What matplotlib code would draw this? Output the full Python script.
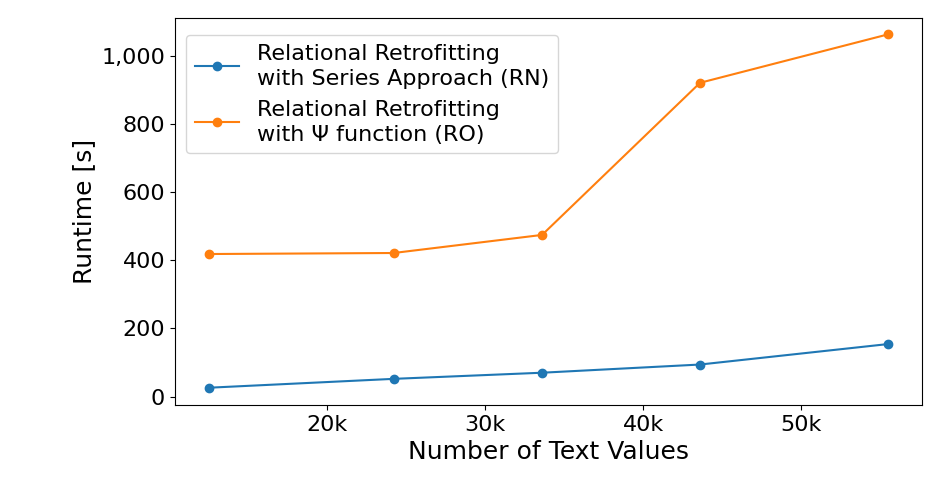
import matplotlib
matplotlib.use('Agg')
import matplotlib.pyplot as plt
from matplotlib.ticker import FuncFormatter

# number of text values and runtimes
text_values = [12500, 24200, 33600, 43600, 55500]
runtime_rn = [26, 52, 70, 94, 154]
runtime_ro = [418, 421, 474, 920, 1062]

labels = ['Relational Retrofitting\nwith Series Approach (RN)',
          'Relational Retrofitting\nwith \u03a8 function (RO)']

fig = plt.figure(figsize=(9.5, 4.8), dpi=100)
ax = fig.add_axes([0.184, 0.156, 0.7865, 0.8065])

ax.plot(text_values, runtime_rn, marker='o', color='#1f77b4', label=labels[0])
ax.plot(text_values, runtime_ro, marker='o', color='#ff7f0e', label=labels[1])

ax.set_xlabel('Number of Text Values', fontsize=18)
ax.set_ylabel('Runtime [s]', fontsize=18)
ax.set_xticks([20000, 30000, 40000, 50000])
ax.xaxis.set_major_formatter(FuncFormatter(lambda v, p: '%dk' % (v / 1000)))
ax.yaxis.set_major_formatter(FuncFormatter(lambda v, p: '{:,.0f}'.format(v)))
ax.set_ylim(-25, 1110)
ax.tick_params(labelsize=16)
leg = ax.legend(loc='upper left', fontsize=16, bbox_to_anchor=(0, 0.985))
for t in leg.get_texts():
    t.set_linespacing(1.3)

fig.savefig('out.png', dpi=100)
